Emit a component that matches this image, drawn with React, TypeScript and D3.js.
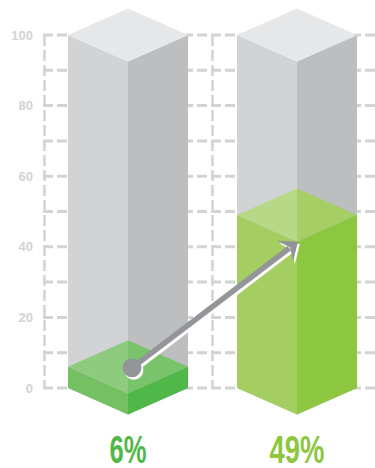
import React from 'react'
import { scaleLinear, scaleBand, range } from 'd3'

const categories = ['before', 'after']
const values = [6, 49]
const labels = ['6%', '49%']
const yTicks = [0, 20, 40, 60, 80, 100]

const width = 375
const height = 468

const App = () => {
  const y = scaleLinear().domain([0, 100]).range([388, 35])
  const x = scaleBand<string>().domain(categories).range([68, 357]).paddingInner(0.29).paddingOuter(0)
  const depth = 26.5
  const gridColor = '#d1d3d4'

  const greens = [
    { topL: '#8fcb7e', topR: '#79c36a', left: '#74c062', right: '#50b848', text: '#50b848' },
    { topL: '#b6d887', topR: '#a5ce64', left: '#a4ce62', right: '#8dc63f', text: '#8dc63f' },
  ]

  const pts = (p: number[][]) => p.map(d => d.join(',')).join(' ')

  const box = (x0: number, x1: number, yTop: number, yBase: number) => {
    const xc = (x0 + x1) / 2
    return {
      left: pts([[x0, yTop], [xc, yTop + depth], [xc, yBase + depth], [x0, yBase]]),
      right: pts([[xc, yTop + depth], [x1, yTop], [x1, yBase], [xc, yBase + depth]]),
      top: pts([[x0, yTop], [xc, yTop - depth], [x1, yTop], [xc, yTop + depth]]),
      topL: pts([[x0, yTop], [xc, yTop - depth], [xc, yTop + depth]]),
      topR: pts([[xc, yTop - depth], [x1, yTop], [xc, yTop + depth]]),
    }
  }

  // arrow from first bar top to second bar front corner
  const bw = x.bandwidth()
  const sx = x(categories[0])! + bw / 2 + 4
  const sy = y(values[0]) + 1
  const tx = x(categories[1])! + bw / 2 + 1
  const ty = y(values[1]) + depth
  const len = Math.hypot(tx - sx, ty - sy)
  const ux = (tx - sx) / len
  const uy = (ty - sy) / len
  const nx = -uy
  const ny = ux
  const headLen = 16
  const headW = 13
  const head = pts([
    [tx, ty],
    [tx - headLen * ux + headW * nx, ty - headLen * uy + headW * ny],
    [tx - 10 * ux, ty - 10 * uy],
    [tx - headLen * ux - headW * nx, ty - headLen * uy - headW * ny],
  ])
  const arrow = (fill: string, dx: number, dy: number) => (
    <g transform={`translate(${dx},${dy})`} fill={fill}>
      <line x1={sx} y1={sy} x2={tx - 11 * ux} y2={ty - 11 * uy} stroke={fill} strokeWidth={5.5} />
      <polygon points={head} />
      <circle cx={sx} cy={sy} r={9.5} />
    </g>
  )

  return (
    <svg width={width} height={height} style={{ position: 'absolute', left: 0, top: 0 }}>
      <rect width={width} height={height} fill="#fff" />
      {/* grid */}
      {range(0, 101, 10).map(v => (
        <line key={v} x1={43} x2={width} y1={y(v)} y2={y(v)}
          stroke={gridColor} strokeWidth={3} strokeDasharray="10 4" />
      ))}
      {[44.5, 212.5].map(gx => (
        <line key={gx} x1={gx} x2={gx} y1={y(100)} y2={y(0)}
          stroke={gridColor} strokeWidth={2.5} strokeDasharray="11 4" />
      ))}
      {yTicks.map(t => (
        <text key={t} x={33} y={y(t)} textAnchor="end" dominantBaseline="central"
          fontFamily="Liberation Sans, Arial, sans-serif" fontWeight="bold" fontSize={13} fill={gridColor}>
          {t}
        </text>
      ))}
      {categories.map((c, i) => {
        const x0 = x(c)!
        const x1 = x0 + bw
        const g = box(x0, x1, y(100), y(0))
        const b = box(x0, x1, y(values[i]), y(0))
        const col = greens[i]
        return (
          <g key={c}>
            <polygon points={g.left} fill="#d1d3d4" />
            <polygon points={g.right} fill="#bcbec0" />
            <polygon points={g.top} fill="#e6e7e8" />
            <polygon points={b.left} fill={col.left} />
            <polygon points={b.right} fill={col.right} />
            <polygon points={b.topL} fill={col.topL} />
            <polygon points={b.topR} fill={col.topR} />
            <text x={(x0 + x1) / 2} y={463} textAnchor="middle" fill={col.text}
              fontFamily="Liberation Sans Narrow, Liberation Sans, sans-serif" fontWeight="bold" fontSize={39}
              textLength={labels[i].length === 2 ? 37 : 55} lengthAdjust="spacingAndGlyphs">
              {labels[i]}
            </text>
          </g>
        )
      })}
      {arrow('#ffffff', 1.8, 2.4)}
      {arrow('#939598', 0, 0)}
    </svg>
  )
}

export default App
